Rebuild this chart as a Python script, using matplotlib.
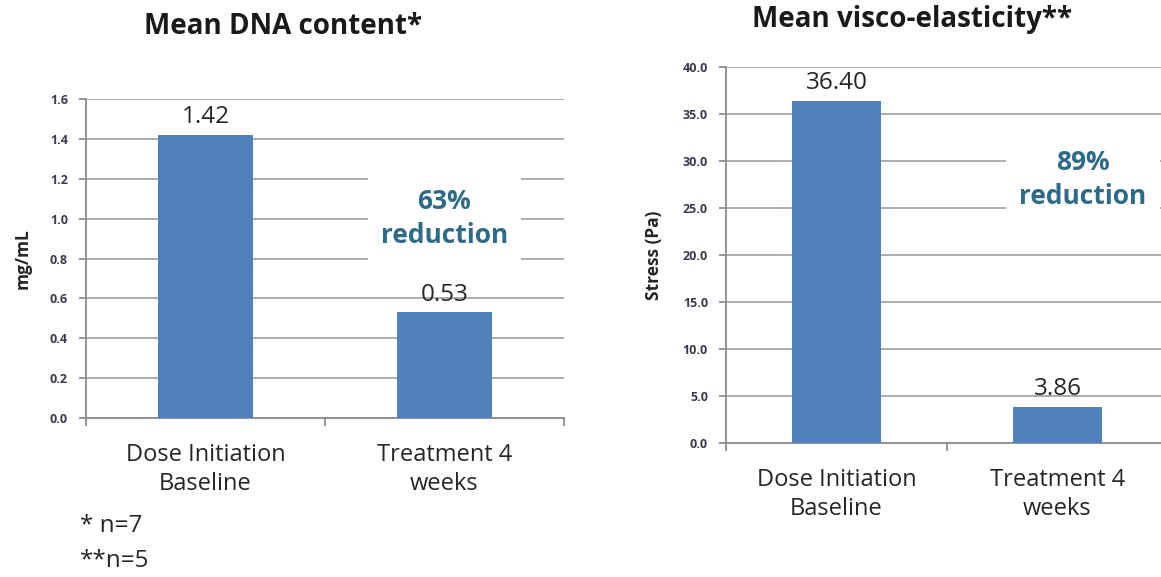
import matplotlib
matplotlib.use("Agg")
import matplotlib.pyplot as plt

plt.rcParams['font.family'] = ['Open Sans', 'DejaVu Sans']

# Data
categories = ["Dose Initiation\nBaseline", "Treatment 4\nweeks"]
dna_values = [1.42, 0.53]
dna_labels = ["1.42", "0.53"]
dna_ticks = [0.0, 0.2, 0.4, 0.6, 0.8, 1.0, 1.2, 1.4, 1.6]
visco_values = [36.40, 3.86]
visco_labels = ["36.40", "3.86"]
visco_ticks = [0.0, 5.0, 10.0, 15.0, 20.0, 25.0, 30.0, 35.0, 40.0]

BAR = "#4F81BD"
GRID = "#A6A6A6"
AXIS = "#8C8C8C"
TEXT = "#262626"
TICKTXT = "#3A3A4A"
ACCENT = "#2E6B88"

W, H = 1161, 577
fig = plt.figure(figsize=(W / 100, H / 100), dpi=100)
fig.patch.set_facecolor("white")


def px_axes(left, top, right, bottom):
    return fig.add_axes([left / W, 1 - bottom / H, (right - left) / W, (bottom - top) / H])


def bar_panel(ax, values, labels, ticks, ylabel, label_offset):
    x = list(range(len(categories)))
    ax.bar(x, values, width=0.4, color=BAR, zorder=3)
    ax.set_xlim(-0.5, len(categories) - 0.5)
    ax.set_ylim(ticks[0], ticks[-1])
    ax.set_yticks(ticks)
    ax.set_yticklabels([f"{t:.1f}" for t in ticks], fontsize=9, fontweight="bold", color=TICKTXT)
    ax.yaxis.grid(True, color=GRID, linewidth=1.3, zorder=0)
    ax.set_axisbelow(True)
    ax.set_xticks(x)
    ax.set_xticklabels(categories, fontsize=17, color=TEXT, linespacing=1.3)
    ax.tick_params(axis="x", which="major", length=0, pad=18)
    ax.set_xticks([i - 0.5 for i in range(len(categories) + 1)], minor=True)
    ax.tick_params(axis="x", which="minor", length=6, color=AXIS, width=1.3)
    ax.tick_params(axis="y", length=5, color=AXIS, width=1.3, pad=8)
    for s in ("top", "right"):
        ax.spines[s].set_visible(False)
    for s in ("left", "bottom"):
        ax.spines[s].set_color(AXIS)
        ax.spines[s].set_linewidth(1.3)
    ax.set_ylabel(ylabel, fontsize=12.5, fontweight="bold", color=TEXT)
    for xi, v, lab in zip(x, values, labels):
        ax.annotate(lab, (xi, v), xytext=(0, label_offset), textcoords="offset points",
                    ha="center", va="bottom", fontsize=17.5, color=TEXT)


# Left panel: DNA content
ax1 = px_axes(86, 99, 564, 418)
bar_panel(ax1, dna_values, dna_labels, dna_ticks, "mg/mL", 4)
ax1.yaxis.set_label_coords(-0.135 + 10 / 478, 0.5)
ax1.text(1.0, 1.0, "63%\nreduction", ha="center", va="center", fontsize=19,
         fontweight="bold", color=ACCENT, linespacing=1.35, zorder=5,
         bbox=dict(boxstyle="square,pad=0.5", facecolor="white", edgecolor="none"))
fig.text(283 / W, 1 - 27 / H, "Mean DNA content*", ha="center", va="center",
         fontsize=20, fontweight="bold", color="#1A1A1A")

# Right panel: visco-elasticity
ax2 = px_axes(726, 67, 1168, 443)
bar_panel(ax2, visco_values, visco_labels, visco_ticks, "Stress (Pa)", 4)
ax2.yaxis.set_label_coords(-0.175 + 14 / 442, 0.5)
ax2.text(1.115, 28.0, "89%\nreduction", ha="center", va="center", fontsize=19,
         fontweight="bold", color=ACCENT, linespacing=1.35, zorder=5,
         bbox=dict(boxstyle="square,pad=0.5", facecolor="white", edgecolor="none"))
fig.text(912 / W, 1 - 19 / H, "Mean visco-elasticity**", ha="center", va="center",
         fontsize=20, fontweight="bold", color="#1A1A1A")

# Footnotes
fig.text(80 / W, 1 - 526 / H, "* n=7", ha="left", va="center", fontsize=17.5, color=TEXT)
fig.text(80 / W, 1 - 561 / H, "**n=5", ha="left", va="center", fontsize=17.5, color=TEXT)

fig.savefig("out.png", dpi=100)
